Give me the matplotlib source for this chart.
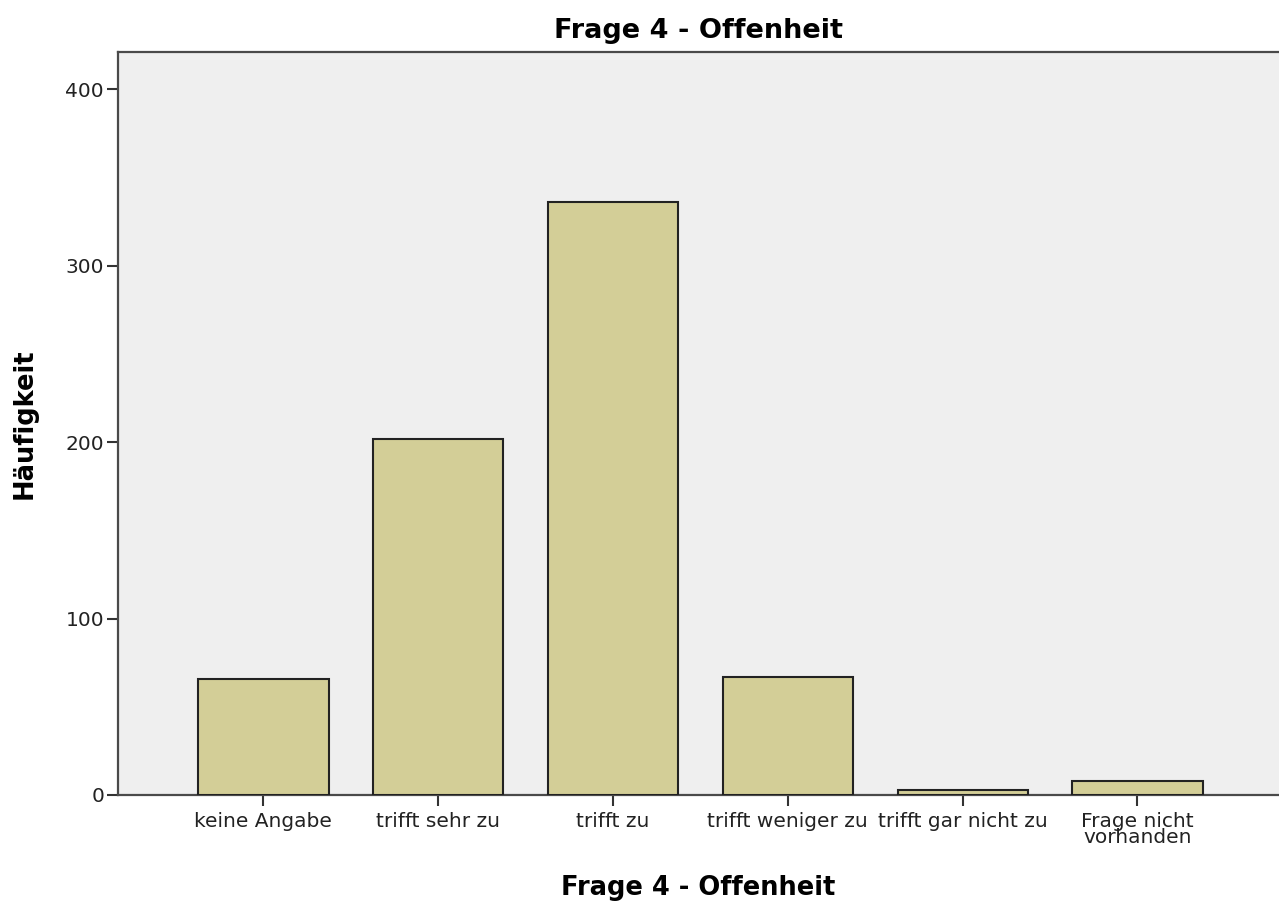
import matplotlib
matplotlib.use("Agg")
import matplotlib.pyplot as plt

categories = ["keine Angabe", "trifft sehr zu", "trifft zu", "trifft weniger zu",
              "trifft gar nicht zu", "Frage nicht\nvorhanden"]
counts = [66, 202, 336, 67, 3, 8]
yticks = [0, 100, 200, 300, 400]

plt.rcParams['font.family'] = ['DejaVu Sans']

W, H = 1279, 902
fig = plt.figure(figsize=(W / 100, H / 100), dpi=100)
ax = fig.add_axes([118 / W, 1 - 795 / H, (1279 - 118) / W, (795 - 52) / H])
ax.set_facecolor("#EFEFEF")

x = list(range(len(categories)))
ax.bar(x, counts, width=0.745, color="#D3CE97", edgecolor="#222222", linewidth=1.5, zorder=3)

ax.set_xlim(-0.832, 5.81)
ax.set_ylim(0, 421)
ax.set_yticks(yticks)
ax.set_yticklabels([str(v) for v in yticks], fontsize=14.5, color="#222222")
ax.set_xticks(x)
ax.set_xticklabels(categories, fontsize=14.5, color="#222222", linespacing=0.82)

for s in ["left", "top", "bottom"]:
    ax.spines[s].set_color("#4a4a4a")
    ax.spines[s].set_linewidth(1.6)
ax.spines["right"].set_visible(False)
ax.tick_params(axis="x", direction="out", length=8, width=1.5, color="#333333", pad=4)
ax.tick_params(axis="y", direction="out", length=8, width=1.5, color="#333333", pad=2)

ax.set_title("Frage 4 - Offenheit", fontsize=19.5, fontweight="bold", pad=10)
ax.set_xlabel("Frage 4 - Offenheit", fontsize=18.5, fontweight="bold", labelpad=20)
ax.set_ylabel("Häufigkeit", fontsize=18.5, fontweight="bold", labelpad=20)

fig.savefig("out.png", dpi=100, facecolor="white")
